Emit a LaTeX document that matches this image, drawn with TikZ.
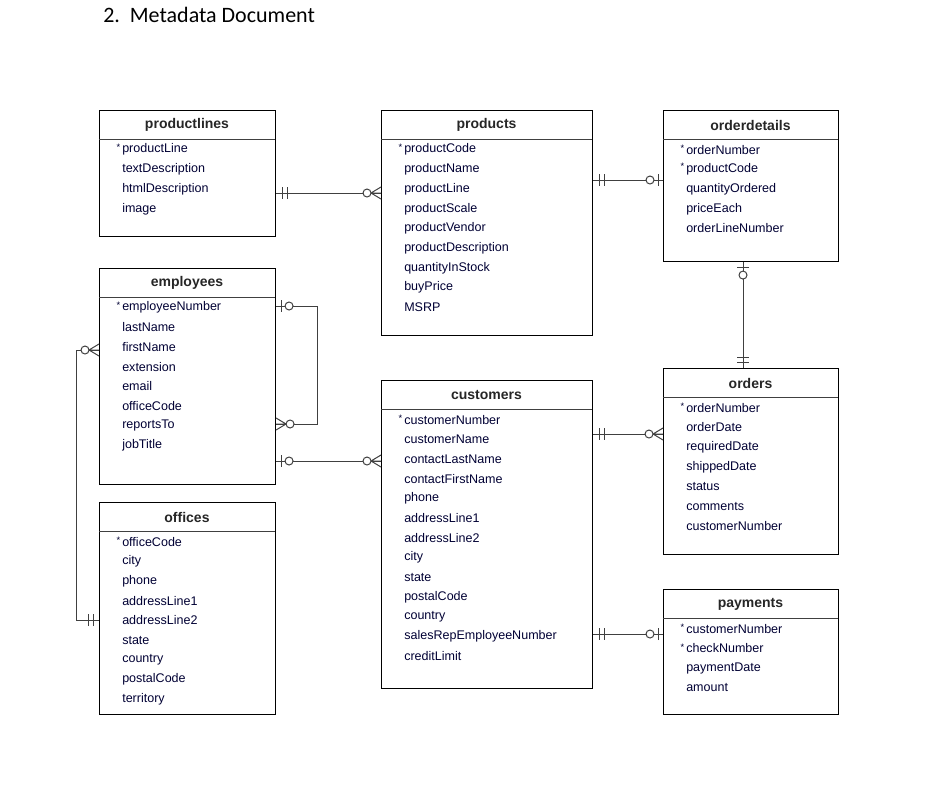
\documentclass[tikz,border=0pt]{standalone}
\usepackage{fontspec}
\setmainfont{Liberation Sans}
\newfontfamily\titlefont{Carlito}
\begin{document}
\begin{tikzpicture}[x=0.75pt,y=-0.75pt,
 box/.style={draw,line width=0.8pt,anchor=north west,inner sep=0pt},
 fld/.style={anchor=west,inner sep=0pt,text=black!80!blue,font=\fontsize{9.4}{11}\selectfont},
 hdr/.style={anchor=center,inner sep=0pt,font=\bfseries\fontsize{10.5}{12}\selectfont,text=black!85},
 ln/.style={line width=0.75pt,draw=black!75},
 pics/dbar/.style={code={\draw[ln] (6,-6)--(6,6) (11,-6)--(11,6);}},
 pics/zone/.style={code={\draw[ln] (5,-6)--(5,6); \draw[ln,fill=white] (13,0) circle (4);}},
 pics/crow/.style={code={\draw[ln] (0,-6)--(10,0)--(0,6) (0,0)--(10,0); \draw[ln,fill=white] (14,0) circle (4);}}]
\useasboundingbox (0,0) rectangle (930,790);
\node[anchor=west,inner sep=0pt,font=\titlefont\fontsize{16.5}{19}\selectfont] (title) at (103,15) {2.\ \ Metadata Document};
\newcommand\erbox[7]{%
 \node[box,minimum width={(#4-#2)*0.75pt},minimum height={(#5-#3)*0.75pt}] (#1) at (#2,#3) {};
 \draw[ln] (#2,#3+29) -- (#4,#3+29);
 \node[hdr] (#1t) at ({(#2+#4)/2},#3+15) {#6};
 \foreach \f [count=\i] in {#7} {\node[fld] at (#2+23,#3+20+19.7*\i) {\f};}}
\def\pk{\llap{\raisebox{2pt}{\fontsize{7}{8}\selectfont *}\,}}
\erbox{pl}{99}{110}{275}{236}{productlines}{\pk productLine,textDescription,htmlDescription,image}
\erbox{pr}{381}{110}{592}{335}{products}{\pk productCode,productName,productLine,productScale,productVendor,productDescription,quantityInStock,buyPrice,MSRP}
\erbox{od}{663}{110}{838}{261}{orderdetails}{\pk orderNumber,\pk productCode,quantityOrdered,priceEach,orderLineNumber}
\erbox{em}{99}{268}{275}{484}{employees}{\pk employeeNumber,lastName,firstName,extension,email,officeCode,reportsTo,jobTitle}
\erbox{cu}{381}{380}{592}{688}{customers}{\pk customerNumber,customerName,contactLastName,contactFirstName,phone,addressLine1,addressLine2,city,state,postalCode,country,salesRepEmployeeNumber,creditLimit}
\erbox{or}{663}{368}{838}{554}{orders}{\pk orderNumber,orderDate,requiredDate,shippedDate,status,comments,customerNumber}
\erbox{of}{99}{502}{275}{714}{offices}{\pk officeCode,city,phone,addressLine1,addressLine2,state,country,postalCode,territory}
\erbox{pa}{663}{589}{838}{714}{payments}{\pk customerNumber,\pk checkNumber,paymentDate,amount}
% connectors
\draw[ln] (pl.east |- 0,193) -- (pr.west |- 0,193);
\pic at (pl.east |- 0,193) {dbar}; \pic[rotate=180] at (pr.west |- 0,193) {crow};
\draw[ln] (pr.east |- 0,180) -- (od.west |- 0,180);
\pic at (pr.east |- 0,180) {dbar}; \pic[rotate=180] at (od.west |- 0,180) {zone};
\draw[ln] (od.south -| 743,0) -- (or.north -| 743,0);
\pic[rotate=-90] at (od.south -| 743,0) {zone}; \pic[rotate=90] at (or.north -| 743,0) {dbar};
\coordinate (s1) at (317,306); \coordinate (s2) at (317,424);
\draw[ln] (em.east |- s1) -- (s1) -- (s2) -- (em.east |- s2);
\pic at (em.east |- s1) {zone}; \pic at (em.east |- s2) {crow};
\draw[ln] (em.east |- 0,461) -- (cu.west |- 0,461);
\pic at (em.east |- 0,461) {zone}; \pic[rotate=180] at (cu.west |- 0,461) {crow};
\coordinate (l1) at (76,350); \coordinate (l2) at (76,620);
\draw[ln] (em.west |- l1) -- (l1) -- (l2) -- (of.west |- l2);
\pic[rotate=180] at (em.west |- l1) {crow}; \pic[rotate=180] at (of.west |- l2) {dbar};
\draw[ln] (cu.east |- 0,434) -- (or.west |- 0,434);
\pic at (cu.east |- 0,434) {dbar}; \pic[rotate=180] at (or.west |- 0,434) {crow};
\draw[ln] (cu.east |- 0,634) -- (pa.west |- 0,634);
\pic at (cu.east |- 0,634) {dbar}; \pic[rotate=180] at (pa.west |- 0,634) {zone};
\end{tikzpicture}
\end{document}
